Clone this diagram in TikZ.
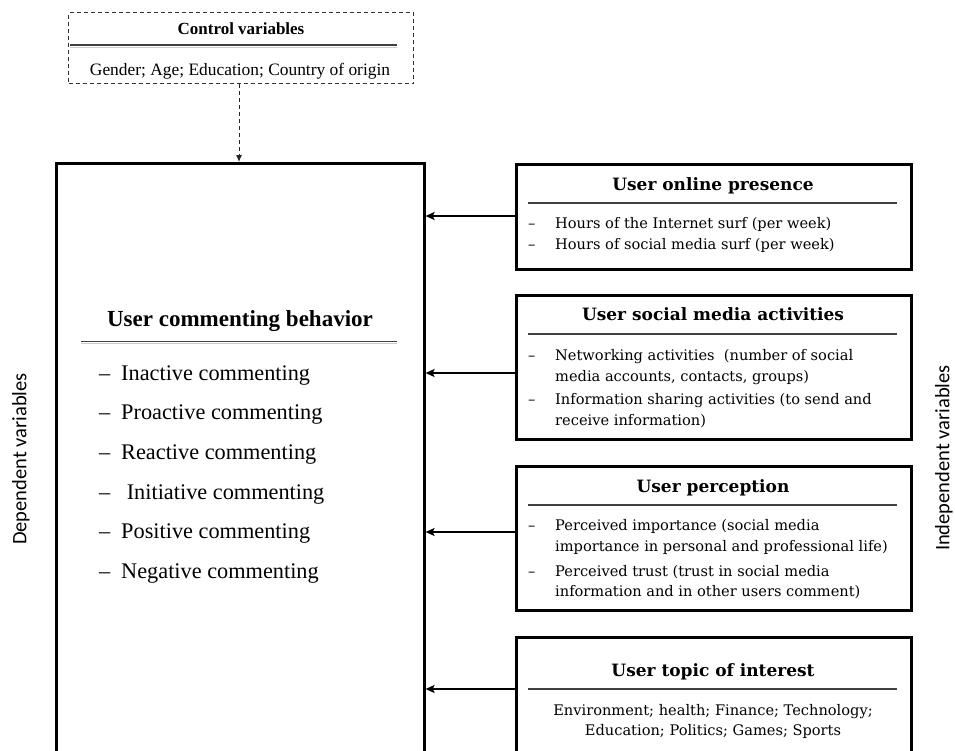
\documentclass[tikz,border=0pt]{standalone}
\usepackage{fontspec}
\setmainfont{Liberation Serif}
\newfontfamily\cambria{DejaVu Serif}
\newfontfamily\calibri{Carlito}
\usetikzlibrary{arrows.meta}

\tikzset{
  frame/.style={draw=black, line width=2.6pt, fill=white, inner sep=0pt, anchor=north west},
  ctrlframe/.style={draw=black!80, line width=1pt, dash pattern=on 4pt off 3pt, inner sep=0pt, anchor=north west},
  txt/.style={inner sep=0pt, anchor=base west},
  ctxt/.style={inner sep=0pt, anchor=base},
  rtitle/.style={ctxt, font=\cambria\bfseries\fontsize{17}{20}\selectfont},
  ritem/.style={txt, font=\cambria\fontsize{14.6}{18}\selectfont},
  ltitle/.style={ctxt, font=\bfseries\fontsize{23}{26}\selectfont},
  litem/.style={txt, font=\fontsize{22.3}{26}\selectfont},
  sidelabel/.style={inner sep=0pt, rotate=90, font=\calibri\fontsize{20.5}{22}\selectfont},
  rule/.style={draw=black!75, line width=1.2pt},
  shadowrule/.style={draw=black!20, line width=1pt},
  arr/.style={draw=black, line width=2.4pt, -{Stealth[length=9pt,width=8pt,inset=2pt]}},
  dasharr/.style={draw=black!85, line width=1pt, dash pattern=on 4pt off 3pt, -{Latex[length=7pt,width=6pt]}}
}

\begin{document}
\begin{tikzpicture}[x=1pt,y=-1pt]
\useasboundingbox (0,0) rectangle (955,750);
\clip (0,0) rectangle (955,750);

% control variables (dashed box)
\node[ctrlframe, minimum width=345pt, minimum height=71pt] (ctrl) at (68,12) {};
\node[ctxt, font=\bfseries\fontsize{17}{20}\selectfont] (ctrlt) at (241,34) {Control variables};
\draw[rule] (70,45) -- (397,45);
\draw[shadowrule] (70,47.2) -- (397,47.2);
\node[ctxt, font=\fontsize{17.4}{20}\selectfont] (ctrlv) at (240,75) {Gender; Age; Education; Country of origin};

% dependent block
\node[frame, minimum width=368pt, minimum height=700pt] (main) at (55,162) {};
\node[ltitle] (mt) at (240,326) {User commenting behavior};
\draw[rule] (81,341.5) -- (397,341.5);
\draw[shadowrule] (81,343.8) -- (397,343.8);
\foreach \y/\t/\n in {380/Inactive commenting/1, 419/Proactive commenting/2, 459/Reactive commenting/3,
                      499/\ Initiative commenting/4, 538/Positive commenting/5, 578/Negative commenting/6}{
  \node[litem] (md\n) at (99,\y) {\textendash};
  \node[litem] (mi\n) at (121,\y) {\t};
}

% independent blocks
\node[frame, minimum width=395pt, minimum height=105pt] (op) at (515,163) {};
\node[frame, minimum width=395pt, minimum height=144pt] (sma) at (515,294) {};
\node[frame, minimum width=395pt, minimum height=144pt] (per) at (515,465) {};
\node[frame, minimum width=395pt, minimum height=200pt] (top) at (515,636) {};

% online presence
\node[rtitle] (opt) at (713,190) {User online presence};
\draw[rule] (528,203) -- (897,203);
\node[ritem] (opd1) at (528,228) {\textendash};
\node[ritem] (op1) at (555,228) {Hours of the Internet surf (per week)};
\node[ritem] (opd2) at (528,249) {\textendash};
\node[ritem] (op2) at (555,249) {Hours of social media surf (per week)};

% social media activities
\node[rtitle] (smat) at (713,320) {User social media activities};
\draw[rule] (528,334) -- (897,334);
\node[ritem] (smad1) at (528,360) {\textendash};
\node[ritem] (sma1) at (555,360) {Networking activities\ \ (number of social};
\node[ritem] (sma2) at (555,381) {media accounts, contacts, groups)};
\node[ritem] (smad2) at (528,404) {\textendash};
\node[ritem] (sma3) at (555,404) {Information sharing activities (to send and};
\node[ritem] (sma4) at (555,425) {receive information)};

% perception
\node[rtitle] (pert) at (713,492) {User perception};
\draw[rule] (528,505) -- (897,505);
\node[ritem] (perd1) at (528,530) {\textendash};
\node[ritem] (per1) at (555,530) {Perceived importance (social media};
\node[ritem] (per2) at (555,551) {importance in personal and professional life)};
\node[ritem] (perd2) at (528,576) {\textendash};
\node[ritem] (per3) at (555,576) {Perceived trust (trust in social media};
\node[ritem] (per4) at (555,596) {information and in other users comment)};

% topic of interest
\node[rtitle] (topt) at (713,676) {User topic of interest};
\draw[rule] (528,689) -- (897,689);
\node[ritem, anchor=base] (top1) at (713,715) {Environment; health; Finance; Technology;};
\node[ritem, anchor=base] (top2) at (713,735) {Education; Politics; Games; Sports};

% connectors
\draw[dasharr] (ctrl.south -| 239,0) -- (main.north -| 239,0);
\draw[arr] (op.west |- 0,216) -- (main.east |- 0,216);
\draw[arr] (sma.west |- 0,373) -- (main.east |- 0,373);
\draw[arr] (per.west |- 0,532) -- (main.east |- 0,532);
\draw[arr] (top.west |- 0,689) -- (main.east |- 0,689);

% side labels
\node[sidelabel] (dep) at (21,459) {Dependent variables};
\node[sidelabel] (ind) at (944,458) {Independent variables};
\end{tikzpicture}
\end{document}
